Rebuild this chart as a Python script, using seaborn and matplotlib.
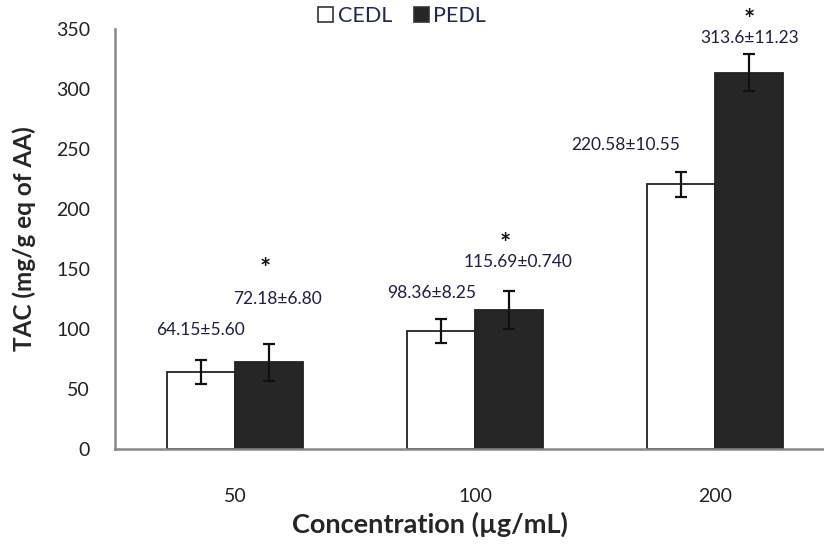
import pandas as pd
import numpy as np
import matplotlib.pyplot as plt
import matplotlib.patches as mpatches
import seaborn as sns

# data
conc = ['50', '100', '200']
cedl = [64.15, 98.36, 220.58]
pedl = [72.18, 115.69, 313.6]
cedl_err = [10, 10, 10.5]      # error bars as drawn
pedl_err = [15.5, 16, 15.5]
cedl_txt = ['64.15±5.60', '98.36±8.25', '220.58±10.55']
pedl_txt = ['72.18±6.80', '115.69±0.740', '313.6±11.23']
yticks = [0, 50, 100, 150, 200, 250, 300, 350]

df = pd.DataFrame({
    'conc': conc * 2,
    'group': ['CEDL'] * 3 + ['PEDL'] * 3,
    'tac': cedl + pedl,
})

sns.set_style('white')
plt.rcParams['font.family'] = ['Lato', 'DejaVu Sans']

fig = plt.figure(figsize=(8.24, 5.46), dpi=100)
ax = fig.add_axes([0.1396, 0.1777, 0.8604, 0.7692])

sns.barplot(data=df, x='conc', y='tac', hue='group', order=conc,
            hue_order=['CEDL', 'PEDL'], palette={'CEDL': 'white', 'PEDL': '#262626'},
            width=0.57, edgecolor='#222222', linewidth=1.3, errorbar=None,
            legend=False, ax=ax)

bars = ax.patches[:6]
cx = [b.get_x() + b.get_width() / 2 for b in bars]
ax.errorbar(cx[:3], cedl, yerr=cedl_err, fmt='none', ecolor='#111111',
            elinewidth=1.6, capsize=4.5, capthick=1.6, zorder=5)
ax.errorbar(cx[3:], pedl, yerr=pedl_err, fmt='none', ecolor='#111111',
            elinewidth=1.6, capsize=4.5, capthick=1.6, zorder=5)

# value labels and significance stars
tcol = '#1e1e44'
c_off = [(0.0, 35), (-0.04, 32), (-0.23, 33)]
p_off = [(0.035, 53), (0.035, 40), (0.0, 29)]
for i in range(3):
    ax.text(cx[i] + c_off[i][0], cedl[i] + c_off[i][1], cedl_txt[i],
            ha='center', va='center', fontsize=12.5, color=tcol)
    ax.text(cx[3 + i] + p_off[i][0], pedl[i] + p_off[i][1], pedl_txt[i],
            ha='center', va='center', fontsize=12.5, color=tcol, clip_on=False)
    ax.text(cx[3 + i] + p_off[i][0] - (0.05 if i < 2 else 0),
            pedl[i] + p_off[i][1] + (25 if i == 0 else 15), '*',
            ha='center', va='center', fontsize=19, fontweight='bold',
            color='#111111', clip_on=False)

ax.set_ylim(0, 350)
ax.set_xlim(-0.5, 2.454)
ax.set_yticks(yticks)
ax.set_yticklabels([str(t) for t in yticks], fontsize=14, color='#222222')
ax.set_xticks([-0.5, 0.5, 1.5])
ax.set_xticklabels([])
ax.set_xticks([0, 1, 2], minor=True)
ax.set_xticklabels(conc, minor=True, fontsize=14, color='#222222')
ax.tick_params(axis='x', which='major', direction='out', length=8, width=1.5, color='#888888')
ax.tick_params(axis='x', which='minor', length=0, pad=28)
ax.tick_params(axis='y', direction='out', length=6, width=1.5, color='#888888', pad=12)

for s in ['top', 'right']:
    ax.spines[s].set_visible(False)
for s in ['left', 'bottom']:
    ax.spines[s].set_color('#888888')
    ax.spines[s].set_linewidth(1.8)

ax.set_xlabel('Concentration (µg/mL)', fontsize=19.5, fontweight='bold')
ax.xaxis.set_label_coords(0.444, -0.18)
ax.xaxis.label.set_va('center')
ax.set_ylabel('TAC (mg/g eq of AA)', fontsize=17.5, fontweight='bold', labelpad=14)

handles = [mpatches.Patch(facecolor='white', edgecolor='#333333', linewidth=1.2, label='CEDL'),
           mpatches.Patch(facecolor='#262626', edgecolor='#333333', linewidth=1.2, label='PEDL')]
leg = ax.legend(handles=handles, loc='center', bbox_to_anchor=(0.405, 1.03), ncol=2,
                frameon=False, fontsize=15.5, handlelength=0.7, handleheight=0.7,
                handletextpad=0.2, columnspacing=1.0)
for t in leg.get_texts():
    t.set_color('#1e2a55')

plt.savefig('out.png', dpi=100)
